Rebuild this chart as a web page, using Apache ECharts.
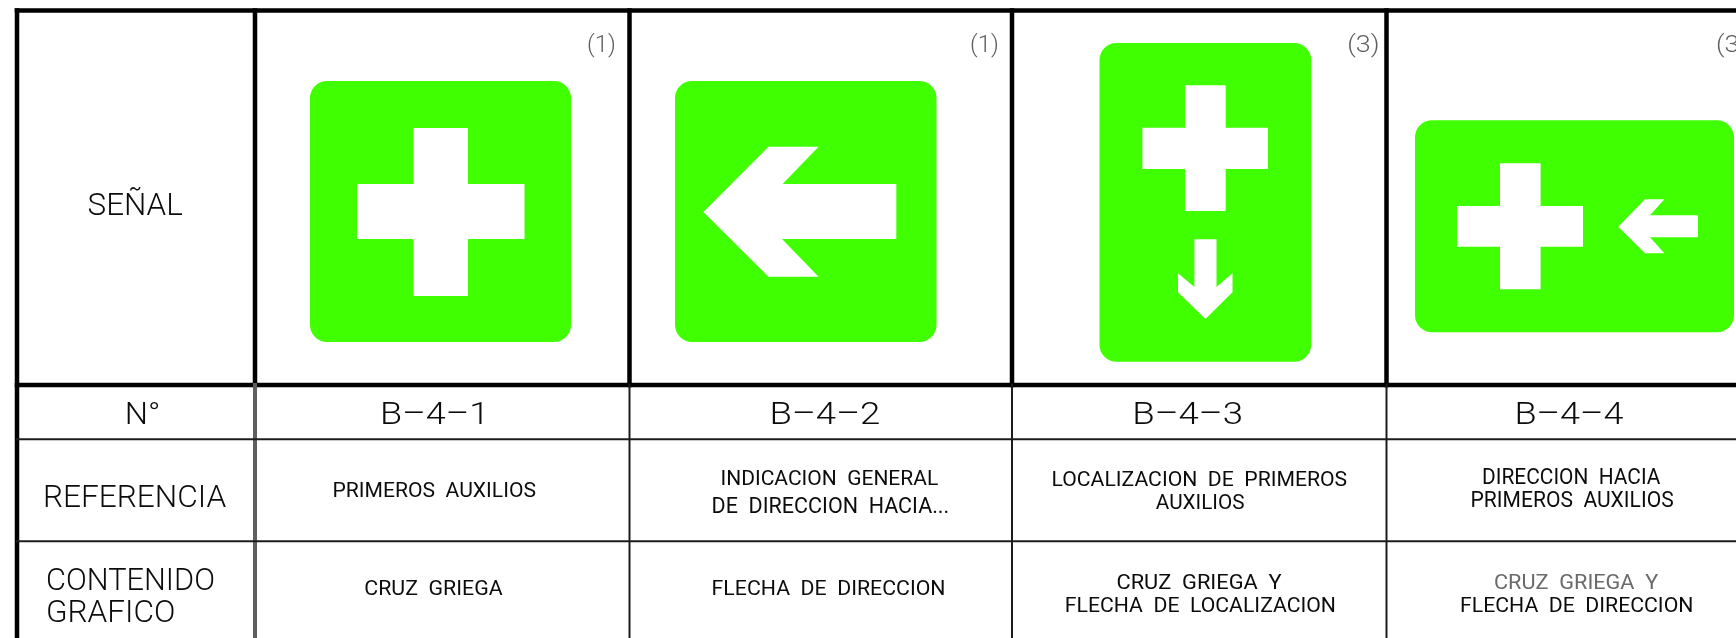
<!DOCTYPE html>
<html><head><meta charset="utf-8">
<style>html,body{margin:0;padding:0;background:#fff}#c{width:1736px;height:638px}</style>
<script src="https://cdn.jsdelivr.net/npm/echarts@6/dist/echarts.min.js"></script>
</head><body><div id="c"></div>
<script>
// Table structure, in sheet units
const columnEdges = [17, 255, 629.5, 1012, 1386.5];
const rowEdges = [10.5, 385, 439.3, 541.3, 638];
const sheetRight = 1736;

// Sign panels: [left, top, right, bottom]
const signPanels = [
  [310, 81, 571, 342],
  [675, 81, 936.5, 342],
  [1099.5, 43, 1311.2, 361.7],
  [1415, 120.3, 1734, 332.3]
];
// Crosses: [armLeft, armRight, armTop, armBottom, barLeft, barRight, barTop, barBottom]
const crossGlyphs = [
  [357, 524.5, 184, 239, 413.5, 468, 128, 296],
  [1142.4, 1268, 127.7, 169, 1185, 1225.7, 85.3, 211],
  [1457, 1583, 206, 246.7, 1500, 1540.6, 163.3, 289.3]
];
// Arrows: outline points
const arrowGlyphs = [
  [[703.4,212],[768.5,146.7],[818.6,146.7],[782.6,184],[896.3,184],[896.3,239],[782,239],[818.6,276.7],[768.5,276.7]],
  [[1194.4,239.3],[1216.5,239.3],[1216.5,287],[1232.5,273.3],[1232.5,292.3],[1205.5,319],[1178,292.3],[1178,273.3],[1194.4,287]],
  [[1618.3,226.7],[1645,199.3],[1664.4,199.3],[1650,215.3],[1698,215.3],[1698,237.3],[1650,237.3],[1664.4,253.3],[1645,253.3]]
];

// Texts
const rowHeaders = ['SEÑAL', 'N°', 'REFERENCIA', 'CONTENIDO', 'GRAFICO'];
const signCodes = ['B–4–1', 'B–4–2', 'B–4–3', 'B–4–4'];
const notes = ['(1)', '(1)', '(3)', '(3)'];
const referenceLines = ['PRIMEROS  AUXILIOS', 'INDICACION  GENERAL', 'DE  DIRECCION  HACIA...', 'LOCALIZACION  DE  PRIMEROS', 'AUXILIOS', 'DIRECCION  HACIA', 'PRIMEROS  AUXILIOS'];
const contentLines = ['CRUZ  GRIEGA', 'FLECHA  DE  DIRECCION', 'CRUZ  GRIEGA  Y', 'FLECHA  DE  LOCALIZACION', 'CRUZ  GRIEGA  Y', 'FLECHA  DE  DIRECCION'];

// Extents of each text: [left, right, capTop, capBottom]
const rowHeaderBoxes = [[88.6,183,193.5,215],[127,159,403,424.3],[45,226.5,486,507.3],[48,214,568.3,590],[48,174,600.7,622.3]];
const signCodeBoxes = [[382.4,482.4,403,424.3],[772,879.5,403,424.3],[1134.7,1241,403,424.3],[1516.9,1624,403,424.3]];
const noteBoxes = [[588,615,34.5,51.5],[971,998,34.5,51.5],[1348.4,1378.6,34.5,51.5],[1717,1747,34.5,51.5]];
const referenceBoxes = [[333.5,535.5,481.7,496.7],[721.4,938.4,470,485.3],[712.6,948.4,497.3,512.7],[1052.5,1346.7,471,486],[1155.8,1244.5,494,509.3],[1483,1661,468.3,484],[1471.5,1673.6,491,506.7]];
const contentBoxes = [[365.3,503,580,595],[712.6,944.5,580,595],[1117.5,1282,574.3,589.3],[1065.8,1335,596.7,611.7],[1495,1658.7,574.3,589.3],[1461,1692.4,596.7,611.7]];

const INK = '#0c0c0c', GREY = '#5f5f5f', SIGN_GREEN = '#40ff00', FONT = 'Roboto, "Liberation Sans", sans-serif';

const textItems = [];
function addTexts(list, boxes, weight, colorOf) {
  list.forEach((t, i) => textItems.push({ text: t, box: boxes[i], weight, color: colorOf ? colorOf(i) : INK }));
}
addTexts(rowHeaders, rowHeaderBoxes, 300);
addTexts(signCodes, signCodeBoxes, 300);
addTexts(notes, noteBoxes, 300, () => GREY);
addTexts(referenceLines, referenceBoxes, 400);
addTexts(contentLines, contentBoxes, 400, i => i === 4 ? '#6a6a6a' : INK);

const crossPoints = c => {
  const [al, ar, at, ab, bl, br, bt, bb] = c;
  return [[bl,bt],[br,bt],[br,at],[ar,at],[ar,ab],[br,ab],[br,bb],[bl,bb],[bl,ab],[al,ab],[al,at],[bl,at]];
};
const glyphs = crossGlyphs.map(crossPoints).concat(arrowGlyphs);

const seg = (x0, y0, x1, y1) => [x0, y0, x1, y1];
const heavySegments = [
  seg(columnEdges[0], rowEdges[0], sheetRight, rowEdges[0]),
  seg(columnEdges[0], rowEdges[1], sheetRight, rowEdges[1]),
  seg(columnEdges[0], rowEdges[0], columnEdges[0], rowEdges[4])
].concat(columnEdges.slice(1).map(x => seg(x, rowEdges[0], x, rowEdges[1])));
const greySegments = [seg(columnEdges[1], rowEdges[1], columnEdges[1], rowEdges[4])];
const thinSegments = [
  seg(columnEdges[0], rowEdges[2], sheetRight, rowEdges[2]),
  seg(columnEdges[0], rowEdges[3], sheetRight, rowEdges[3])
].concat(columnEdges.slice(2).map(x => seg(x, rowEdges[1], x, rowEdges[4])));

const meas = document.createElement('canvas').getContext('2d');

function lineSeries(name, data, width, color) {
  return {
    name, type: 'custom', coordinateSystem: 'cartesian2d', silent: true, clip: false, z: 3,
    encode: { x: [0, 2], y: [1, 3] }, data,
    renderItem: (p, api) => {
      const a = api.coord([api.value(0), api.value(1)]), b = api.coord([api.value(2), api.value(3)]);
      return { type: 'line', shape: { x1: a[0], y1: a[1], x2: b[0], y2: b[1] }, style: { stroke: color, lineWidth: width, lineCap: 'square' } };
    }
  };
}

const chart = echarts.init(document.getElementById('c'), null, { renderer: 'canvas' });
chart.setOption({
  animation: false,
  backgroundColor: '#ffffff',
  grid: { left: 0, right: 0, top: 0, bottom: 0 },
  xAxis: { type: 'value', min: 0, max: 1736, show: false },
  yAxis: { type: 'value', min: 0, max: 638, inverse: true, show: false },
  series: [
    {
      name: 'panels', type: 'custom', coordinateSystem: 'cartesian2d', silent: true, z: 1,
      encode: { x: [0, 2], y: [1, 3] }, data: signPanels,
      renderItem: (p, api) => {
        const a = api.coord([api.value(0), api.value(1)]), b = api.coord([api.value(2), api.value(3)]);
        return { type: 'rect', shape: { x: a[0], y: a[1], width: b[0] - a[0], height: b[1] - a[1], r: 17 }, style: { fill: SIGN_GREEN } };
      }
    },
    {
      name: 'glyphs', type: 'custom', coordinateSystem: 'cartesian2d', silent: true, z: 2,
      data: glyphs.map((g, i) => [g[0][0], g[0][1], i]),
      renderItem: (p, api) => ({
        type: 'polygon',
        shape: { points: glyphs[api.value(2)].map(pt => api.coord(pt)) },
        style: { fill: '#ffffff' }
      })
    },
    lineSeries('heavy', heavySegments, 4.5, '#000000'),
    lineSeries('grey', greySegments, 4, GREY),
    lineSeries('thin', thinSegments, 2, '#1c1c1c'),
    {
      name: 'texts', type: 'custom', coordinateSystem: 'cartesian2d', silent: true, clip: false, z: 4,
      encode: { x: [0, 1], y: [2, 3] }, data: textItems.map(t => t.box),
      renderItem: (p, api) => {
        const item = textItems[p.dataIndex];
        const l = api.coord([api.value(0), api.value(2)]), r = api.coord([api.value(1), api.value(3)]);
        const capPx = r[1] - l[1];
        const size = Math.round(capPx / 0.71);
        const font = `${item.weight} ${size}px ${FONT}`;
        meas.font = font; meas.textBaseline = 'middle';
        const w = meas.measureText(item.text);
        const ink = w.actualBoundingBoxLeft + w.actualBoundingBoxRight;
        const sx = (r[0] - l[0]) / ink;
        const h = meas.measureText('H');
        const sy = capPx / (h.actualBoundingBoxAscent + h.actualBoundingBoxDescent);
        const capMid = (h.actualBoundingBoxDescent - h.actualBoundingBoxAscent) / 2;
        return {
          type: 'text',
          x: l[0] + w.actualBoundingBoxLeft * sx,
          y: (l[1] + r[1]) / 2 - capMid * sy,
          scaleX: sx, scaleY: sy,
          style: { text: item.text, x: 0, y: 0, font, fill: item.color, align: 'left', verticalAlign: 'middle' }
        };
      }
    }
  ]
});
</script></body></html>
